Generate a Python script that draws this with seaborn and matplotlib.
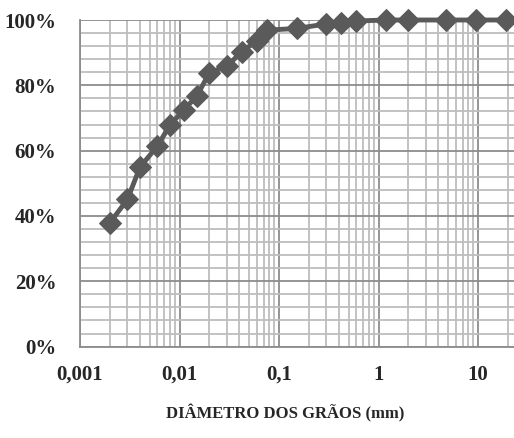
import matplotlib
matplotlib.use('Agg')
import matplotlib.pyplot as plt
import matplotlib.ticker as mticker
import pandas as pd
import seaborn as sns

# curva granulometrica
diametro = [0.002, 0.003, 0.004, 0.006, 0.008, 0.011, 0.015, 0.02, 0.03,
            0.042, 0.06, 0.075, 0.15, 0.3, 0.42, 0.6, 1.18, 2.0, 4.8, 9.5, 19.0]
passante = [37.9, 45.1, 54.9, 61.4, 67.8, 72.4, 76.8, 83.9, 85.8,
            90.3, 93.6, 96.9, 97.4, 98.8, 99.2, 99.7, 100, 100, 100, 100, 100]
xticks = [0.001, 0.01, 0.1, 1, 10]
xtick_labels = ['0,001', '0,01', '0,1', '1', '10']
yticks = [0, 20, 40, 60, 80, 100]

df = pd.DataFrame({'diametro': diametro, 'passante': passante})

sns.set_style('white')
plt.rcParams['font.family'] = ['Liberation Serif', 'DejaVu Serif']
plt.rcParams['font.weight'] = 'bold'

fig = plt.figure(figsize=(5.14, 4.38), dpi=100)
ax = fig.add_axes([80/514, 1-346.6/438, 434/514, (346.6-20)/438])

sns.lineplot(data=df, x='diametro', y='passante', ax=ax, color='#5a5a5a',
             linewidth=3.5, marker='D', markersize=11, markeredgecolor='#5a5a5a',
             clip_on=False, zorder=5)

ax.set_xscale('log')
ax.set_xlim(0.001, 23)
ax.set_ylim(0, 100)
ax.set_xticks(xticks)
ax.set_xticklabels(xtick_labels)
ax.xaxis.set_minor_locator(mticker.LogLocator(base=10, subs=range(2, 10), numticks=20))
ax.xaxis.set_minor_formatter(mticker.NullFormatter())
ax.set_yticks(yticks)
ax.set_yticklabels([f'{v}%' for v in yticks])
ax.yaxis.set_minor_locator(mticker.MultipleLocator(4))

ax.grid(which='minor', color='#bdbdbd', linewidth=1.3)
ax.grid(which='major', color='#8c8c8c', linewidth=1.3)
ax.set_axisbelow(True)

for s in ['top', 'right']:
    ax.spines[s].set_visible(False)
for s in ['left', 'bottom']:
    ax.spines[s].set_color('#8c8c8c')
    ax.spines[s].set_linewidth(1.3)

ax.tick_params(axis='both', which='major', direction='out', length=5,
               width=1.3, color='#8c8c8c', labelsize=15)
ax.tick_params(axis='x', which='major', pad=8)
ax.tick_params(axis='y', which='major', pad=12)
ax.tick_params(which='minor', length=0)
for lbl in ax.get_xticklabels() + ax.get_yticklabels():
    lbl.set_fontweight('bold')

ax.set_xlabel('')
ax.set_ylabel('')
fig.text(285/514, 1-413/438, 'DIÂMETRO DOS GRÃOS (mm)', ha='center', va='center',
         fontsize=12, fontweight='bold')

fig.savefig('out.png', dpi=100)
